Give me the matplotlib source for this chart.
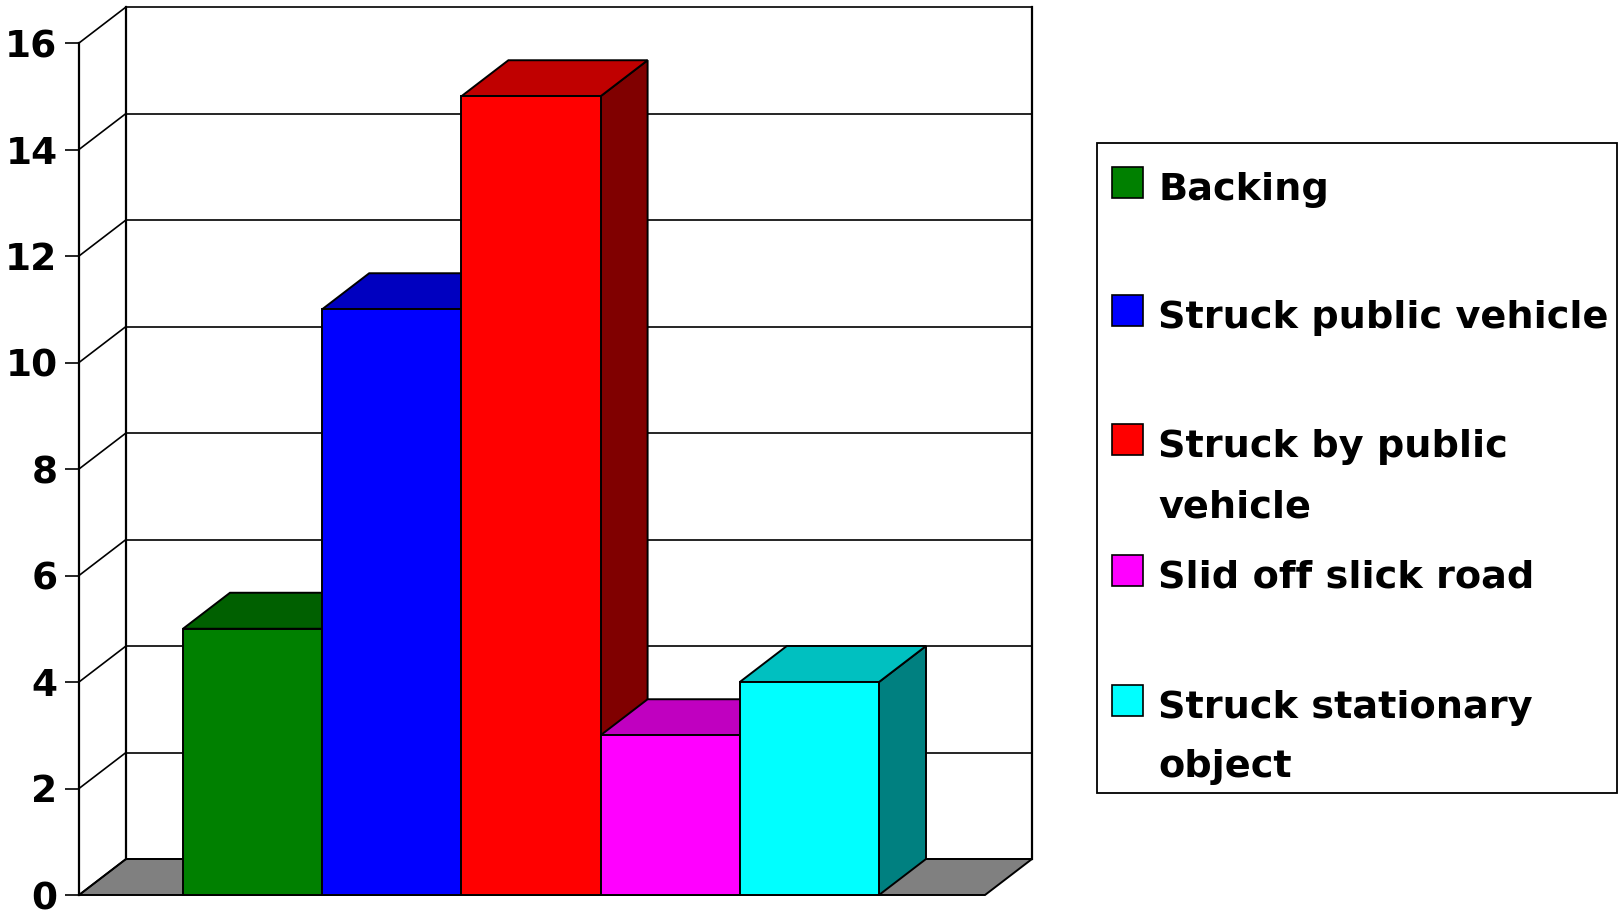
import matplotlib
matplotlib.use("Agg")
import matplotlib.pyplot as plt
from matplotlib.patches import Polygon, Rectangle

# ---- data ----
categories = ["Backing", "Struck public vehicle", "Struck by public vehicle",
              "Slid off slick road", "Struck stationary object"]
legend_lines = [["Backing"], ["Struck public vehicle"], ["Struck by public", "vehicle"],
                ["Slid off slick road"], ["Struck stationary", "object"]]
values = [5, 11, 15, 3, 4]
yticks = [0, 2, 4, 6, 8, 10, 12, 14, 16]

front_colors = ["#008000", "#0000FF", "#FF0000", "#FF00FF", "#00FFFF"]
top_colors = ["#006000", "#0000C0", "#C00000", "#C000C0", "#00C0C0"]
side_colors = ["#004000", "#000080", "#800000", "#800080", "#008080"]

plt.rcParams['font.family'] = ['DejaVu Sans']
plt.rcParams['font.weight'] = 'bold'

W, H = 1622, 914
fig = plt.figure(figsize=(W / 100, H / 100), dpi=100)
fig.patch.set_facecolor("white")

# front plane axes (pixel layout)
ax_left, ax_right, ax_bottom, ax_top = 79, 985, 895, 43
ax = fig.add_axes([ax_left / W, (H - ax_bottom) / H, (ax_right - ax_left) / W, (ax_bottom - ax_top) / H])
bar_px = (879 - 183) / 5.0
xl = -0.5 - (183 - ax_left) / bar_px
xr = 4.5 + (ax_right - 879) / bar_px
ax.set_xlim(xl, xr)
ax.set_ylim(0, 16)
ax.patch.set_alpha(0)

px_per_unit = (ax_bottom - ax_top) / 16.0
DX = 47 / bar_px
DY = 36 / px_per_unit

for s in ["top", "right", "bottom"]:
    ax.spines[s].set_visible(False)
ax.spines["left"].set_linewidth(1.6)
ax.spines["left"].set_zorder(5)
ax.set_xticks([])
ax.set_yticks(yticks)
ax.set_yticklabels([str(t) for t in yticks])
ax.tick_params(axis="y", direction="out", length=10, width=1.2, pad=5.5, labelsize=27)
for lab in ax.get_yticklabels():
    lab.set_fontweight("bold")

lw = 1.4
# floor
ax.add_patch(Polygon([(xl, 0), (xr, 0), (xr + DX, DY), (xl + DX, DY)], closed=True,
                     facecolor="#808080", edgecolor="black", lw=lw, clip_on=False, zorder=1))
# walls / grid
for t in yticks:
    ax.plot([xl, xl + DX], [t, t + DY], color="black", lw=1.2, clip_on=False, zorder=2)
    ax.plot([xl + DX, xr + DX], [t + DY, t + DY], color="black", lw=1.2, clip_on=False, zorder=2)
ax.plot([xl + DX, xl + DX], [DY, 16 + DY], color="black", lw=1.6, clip_on=False, zorder=2)
ax.plot([xr + DX, xr + DX], [DY, 16 + DY], color="black", lw=1.6, clip_on=False, zorder=2)

# bars
for i, v in enumerate(values):
    z = 3 + i
    x0, x1 = i - 0.5, i + 0.5
    ax.add_patch(Polygon([(x1, 0), (x1 + DX, DY), (x1 + DX, v + DY), (x1, v)], closed=True,
                         facecolor=side_colors[i], edgecolor="black", lw=lw, clip_on=False, zorder=z))
    ax.add_patch(Polygon([(x0, v), (x1, v), (x1 + DX, v + DY), (x0 + DX, v + DY)], closed=True,
                         facecolor=top_colors[i], edgecolor="black", lw=lw, clip_on=False, zorder=z))
    ax.bar([i], [v], width=1.0, color=front_colors[i], edgecolor="black", linewidth=lw,
           zorder=z, clip_on=False)

# legend (pixel coordinates overlay)
lg = fig.add_axes([0, 0, 1, 1])
lg.set_xlim(0, W)
lg.set_ylim(H, 0)
lg.axis("off")
lg.patch.set_alpha(0)
lg.add_patch(Rectangle((1097, 143), 1617 - 1097, 793 - 143, facecolor="white",
                       edgecolor="black", lw=1.3))
baselines = [[200], [328], [457, 518], [588], [718, 777]]
for i, lines in enumerate(legend_lines):
    b0 = baselines[i][0]
    lg.add_patch(Rectangle((1112, b0 - 33), 31, 31, facecolor=front_colors[i],
                           edgecolor="black", lw=1.2))
    for txt, b in zip(lines, baselines[i]):
        lg.text(1158, b, txt, fontsize=27.5, fontweight="bold", va="baseline", ha="left")

fig.savefig("out.png", dpi=100)
